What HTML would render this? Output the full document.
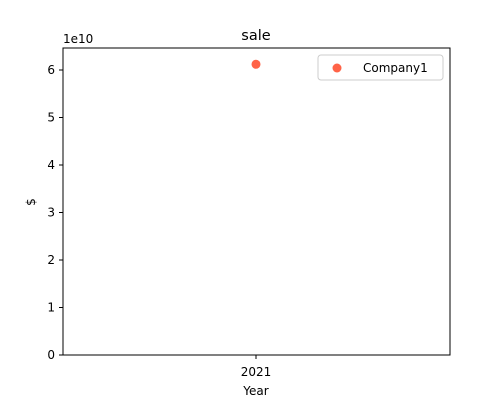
<!DOCTYPE html>
<html><head><meta charset="utf-8"><style>
body{margin:0;background:#fff;font-family:"Liberation Sans",sans-serif;}
svg text{font-family:"DejaVu Sans","Liberation Sans",sans-serif;font-size:12px;fill:#000;}
</style></head><body>
<svg id="chart" width="500" height="400">
<text x="256" y="40" text-anchor="middle" style="font-size:14.5px">sale</text>
<rect x="63" y="48" width="387" height="307" fill="none" stroke="#000" stroke-width="1"/>
<g id="yaxis"></g>
<g id="xaxis"></g>
<text x="63" y="43">1e10</text>
<text x="256" y="395" text-anchor="middle">Year</text>
<text transform="translate(35,202) rotate(-90)" text-anchor="middle">$</text>
<g id="marks"></g>
<g>
<rect x="318" y="55" width="125" height="25" rx="3" fill="#fff" stroke="#ccc"/>
<circle cx="337" cy="68" r="4.5" fill="#ff6347"/>
<text x="363" y="72">Company1</text>
</g>
</svg>
<script>
const categories = ["2021"];
const values = [6.12e10];
const yTicks = [0,1,2,3,4,5,6];
const ns="http://www.w3.org/2000/svg";
const y0=355, yScale=47.5;
function y(v){return y0 - v/1e10*yScale;}
function x(i){return 256 + (i-(categories.length-1)/2)*100;}
const ya=document.getElementById('yaxis');
yTicks.forEach(t=>{
 const l=document.createElementNS(ns,'line');
 l.setAttribute('x1',59);l.setAttribute('x2',63);l.setAttribute('y1',y(t*1e10));l.setAttribute('y2',y(t*1e10));l.setAttribute('stroke','#000');
 
 
 ya.appendChild(l);
 const tx=document.createElementNS(ns,'text');
 tx.setAttribute('x',55);tx.setAttribute('y',y(t*1e10)+4);tx.setAttribute('text-anchor','end');tx.textContent=t;
 
 
 ya.appendChild(tx);
});
const xa=document.getElementById('xaxis'), mk=document.getElementById('marks');
categories.forEach((c,i)=>{
 const l=document.createElementNS(ns,'line');
 l.setAttribute('x1',x(i));l.setAttribute('x2',x(i));l.setAttribute('y1',355);l.setAttribute('y2',359);l.setAttribute('stroke','#000');
 
 
 xa.appendChild(l);
 const tx=document.createElementNS(ns,'text');
 tx.setAttribute('x',x(i));tx.setAttribute('y',376);tx.setAttribute('text-anchor','middle');tx.textContent=c;
 
 
 xa.appendChild(tx);
 const p=document.createElementNS(ns,'circle');
 p.setAttribute('cx',x(i));p.setAttribute('cy',y(values[i]));p.setAttribute('r',4.5);p.setAttribute('fill','#ff6347');
 
 
 mk.appendChild(p);
});
</script>
</body></html>
